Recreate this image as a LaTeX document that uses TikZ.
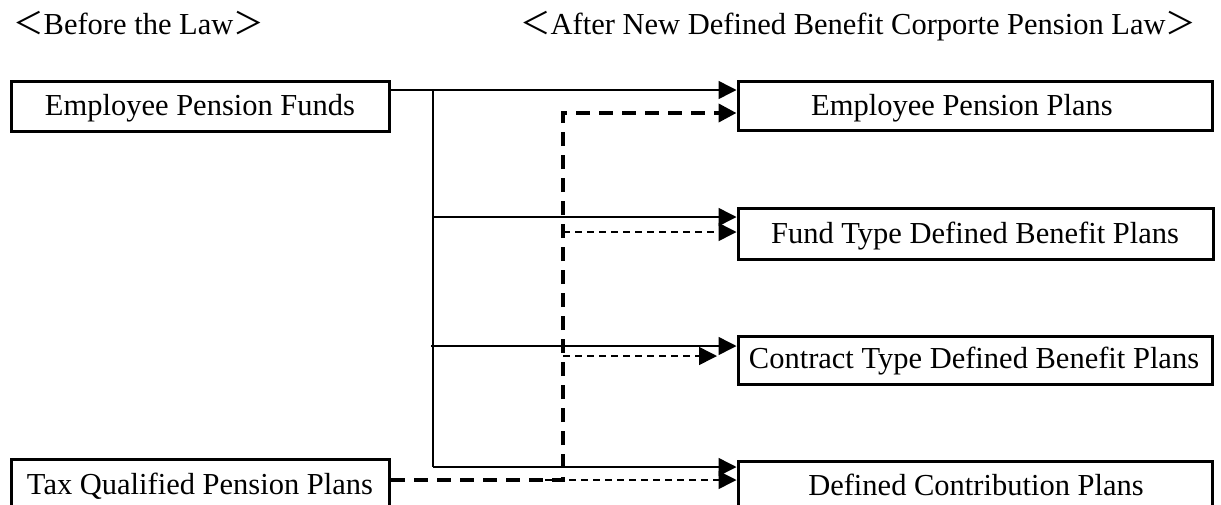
\documentclass[tikz,border=0pt]{standalone}
\usepackage{fontspec}
\setmainfont{Liberation Serif}
\newfontfamily\cjkfont{Noto Sans CJK JP}
\usetikzlibrary{arrows.meta}
\begin{document}
\begin{tikzpicture}[x=1pt,y=-1pt,
  every node/.style={font=\fontsize{30.5pt}{36pt}\selectfont},
  box/.style={draw,line width=3pt,inner sep=0pt,anchor=north west},
  lbl/.style={anchor=base,inner sep=0pt},
  tip/.style={-{Triangle[length=18pt,width=18pt]}},
  solidline/.style={line width=1.5pt},
  thickdash/.style={line width=4pt,dash pattern=on 14pt off 9pt,line join=miter},
  thindash/.style={line width=1.5pt,dash pattern=on 7pt off 5pt}]
\useasboundingbox (0,0) rectangle (1221,504);
% headings
\node[anchor=base west,inner sep=0pt] (h1) at (13,34) {{\cjkfont ＜}Before the Law{\cjkfont ＞}};
\node[anchor=base west,inner sep=0pt] (h2) at (520,34) {{\cjkfont ＜}After New Defined Benefit Corporte Pension Law{\cjkfont ＞}};
% boxes
\node[box,minimum width=378.5pt,minimum height=49.5pt] (epf) at (9.5,80) {};
\node[box,minimum width=378.5pt,minimum height=60pt] (tqp) at (9.5,457.5) {};
\node[box,minimum width=474pt,minimum height=49.5pt] (epp) at (736.5,79.5) {};
\node[box,minimum width=475pt,minimum height=51pt] (ftb) at (736.5,206.5) {};
\node[box,minimum width=474pt,minimum height=48pt] (ctb) at (736.5,334.5) {};
\node[box,minimum width=474pt,minimum height=60pt] (dcp) at (736.5,459.5) {};
% labels
\node[lbl] (tepf) at (200,115) {Employee Pension Funds};
\node[lbl] (ttqp) at (200,494) {Tax Qualified Pension Plans};
\node[lbl] (tepp) at (962,115) {Employee Pension Plans};
\node[lbl] (tftb) at (975,243) {Fund Type Defined Benefit Plans};
\node[lbl] (tctb) at (974,368) {Contract Type Defined Benefit Plans};
\node[lbl] (tdcp) at (976,495) {Defined Contribution Plans};
% junction coordinates
\coordinate (v0) at (433,90);
\coordinate (v1) at (433,217);
\coordinate (v2) at (431,346);
\coordinate (v3) at (433,467);
\coordinate (d0) at (563,113);
\coordinate (d1) at (563,232);
\coordinate (d2) at (563,356);
\coordinate (d3) at (545,480);
\coordinate (d4) at (563,480);
\coordinate (ce) at (717,356);
% solid connectors
\draw[solidline,tip] (epf.east |- v0) -- (epp.west |- v0);
\draw[solidline] (v0) -- (v3);
\draw[solidline,tip] (v1) -- (ftb.west |- v1);
\draw[solidline,tip] (v2) -- (ctb.west |- v2);
\draw[solidline,tip] (v3) -- (dcp.west |- v3);
% dashed connectors
\draw[thickdash,tip] (tqp.east |- d4) -- (d4) -- (d0) -- (epp.west |- d0);
\draw[thindash,tip] (d1) -- (ftb.west |- d1);
\draw[thindash,tip] (d2) -- (ce);
\draw[thindash,tip] (d3) -- (dcp.west |- d3);
\end{tikzpicture}
\end{document}
